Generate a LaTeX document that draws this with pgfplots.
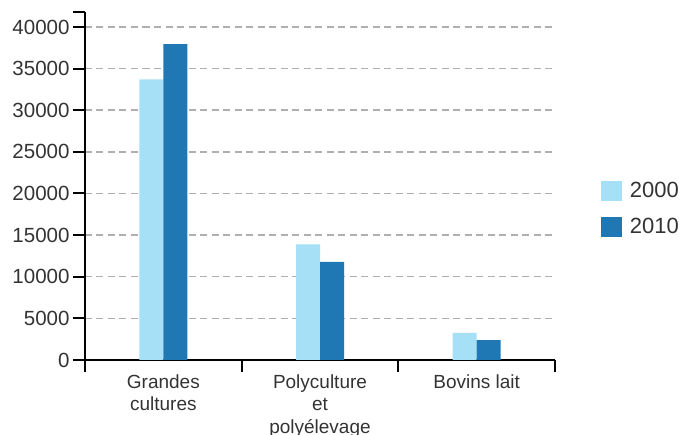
\documentclass[border=0pt]{standalone}
\usepackage{pgfplots}
\pgfplotsset{compat=1.18}
\usepackage{fontspec}
\setmainfont{Liberation Sans}
\definecolor{c2000}{RGB}{166,224,246}
\definecolor{c2010}{RGB}{31,119,180}
\definecolor{tk}{RGB}{51,51,51}
\definecolor{gridc}{RGB}{175,175,175}
\begin{document}
\begin{tikzpicture}
\path[use as bounding box] (-85pt,-75pt) rectangle (598pt,360pt);
\begin{axis}[
  at={(0,0)}, anchor=south west,
  scale only axis, width=470pt, height=348pt,
  xmin=-0.5, xmax=2.5, ymin=0, ymax=41800,
  axis x line*=bottom, axis y line*=left,
  axis line style={line width=2pt, black, -},
  ybar=0pt, bar width=24pt,
  xtick={-0.5,0.5,1.5,2.5}, xticklabels={},
  extra x ticks={0,1,2},
  extra x tick labels={{Grandes\\cultures},{Polyculture\\et\\polyélevage},{Bovins lait}},
  extra x tick style={major tick length=0pt, xticklabel style={yshift=-11pt}},
  xticklabel style={align=center, font=\fontsize{19}{22.5}\selectfont, text=tk},
  ytick={0,5000,...,40000},
  extra y ticks={41800}, extra y tick labels={}, extra y tick style={grid=none},
  yticklabel style={font=\fontsize{20.5}{22}\selectfont, text=tk},
  /pgf/number format/.cd, 1000 sep={}, fixed, assume math mode=true, /pgfplots/.cd,
  scaled y ticks=false,
  tick align=outside, major tick length=12pt,
  tick style={line width=2pt, black},
  ymajorgrids,
  grid style={gridc, line width=1.5pt, dash pattern=on 7pt off 4.5pt},
  legend style={at={(1.091,0.434)}, anchor=west, draw=none, fill=none,
    font=\fontsize{22}{25}\selectfont, text=tk, row sep=15pt,
    /tikz/every odd column/.append style={column sep=6pt}},
  legend cell align=left,
  legend image code/.code={\fill[#1,draw=none] (0pt,-10pt) rectangle (21pt,10pt);},
]
\addplot[fill=c2000, draw=none] coordinates {(0,33700) (1,13900) (2,3250)};
\addplot[fill=c2010, draw=none] coordinates {(0,37950) (1,11800) (2,2400)};
\legend{2000,2010}
\end{axis}
\end{tikzpicture}
\end{document}
